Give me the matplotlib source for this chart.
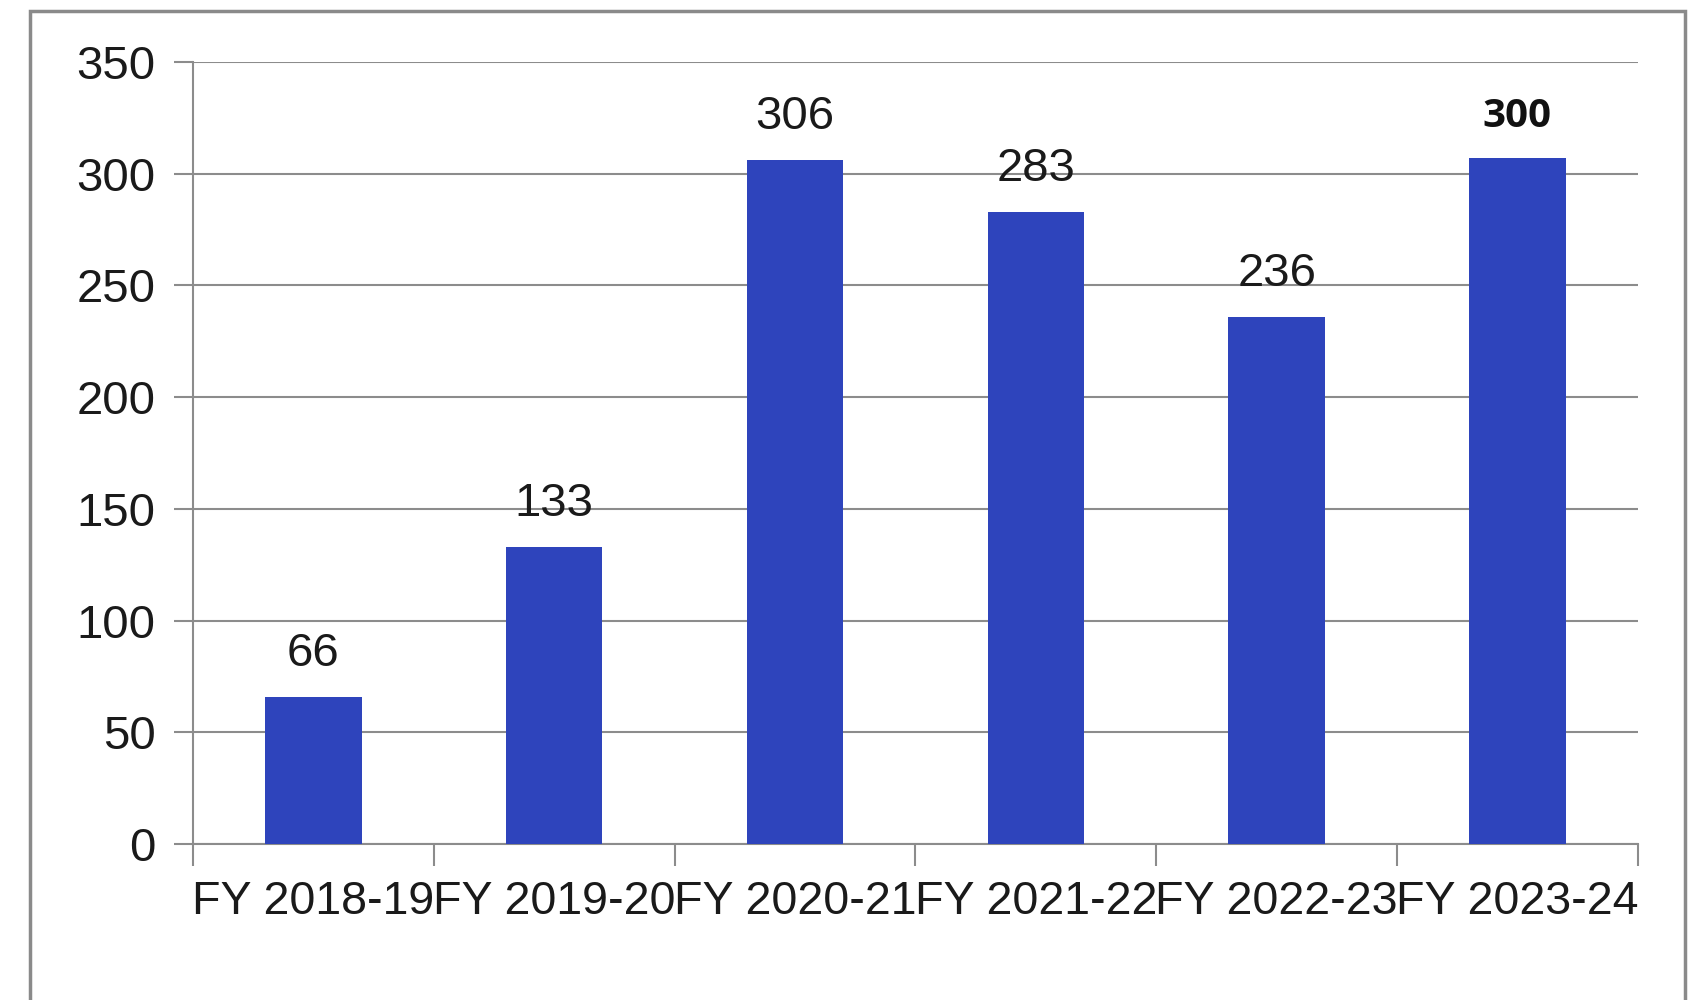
import numpy as np
import matplotlib.pyplot as plt
import matplotlib as mpl
from matplotlib.patches import Rectangle

mpl.rcParams['font.family'] = ['Liberation Sans', 'DejaVu Sans']

# data
years = ['FY 2018-19', 'FY 2019-20', 'FY 2020-21', 'FY 2021-22', 'FY 2022-23', 'FY 2023-24']
counts = [66, 133, 306, 283, 236, 307]
labels = ['66', '133', '306', '283', '236', '300']
y_ticks = [0, 50, 100, 150, 200, 250, 300, 350]

bar_color = '#2E44BC'
grid_color = '#8c8c8c'

fig = plt.figure(figsize=(16.99, 10), dpi=100)
fig.patch.set_facecolor('white')

# grey outer frame (bottom edge runs off the picture)
fig.patches.append(Rectangle((0.0177, -0.05), 0.974, 1.039, transform=fig.transFigure,
                             fill=False, edgecolor='#8a8a8a', linewidth=2.5))

ax = fig.add_axes([0.1136, 0.156, 0.8504, 0.782])
x = np.arange(len(years))
bars = ax.bar(x, counts, width=0.4, color=bar_color, zorder=3)

for i, (b, lab) in enumerate(zip(bars, labels)):
    if i == len(labels) - 1:
        ax.annotate(lab, (b.get_x() + b.get_width() / 2, b.get_height()),
                    xytext=(0, 16), textcoords='offset points', ha='center', va='bottom',
                    fontsize=29, fontweight='bold', family=['Open Sans', 'DejaVu Sans'], color='#111111')
    else:
        ax.annotate(lab, (b.get_x() + b.get_width() / 2, b.get_height()),
                    xytext=(0, 15), textcoords='offset points', ha='center', va='bottom',
                    fontsize=34, color='#1a1a1a')

ax.set_xlim(-0.5, len(years) - 0.5)
ax.set_ylim(0, 350)
ax.set_yticks(y_ticks)
ax.set_yticklabels([str(v) for v in y_ticks], fontsize=34, color='#1a1a1a')
ax.yaxis.grid(True, color=grid_color, linewidth=1.5, zorder=0)

# ticks between categories, labels under the bars
ax.set_xticks(np.arange(-0.5, len(years), 1.0))
ax.set_xticklabels([])
ax.set_xticks(x, minor=True)
ax.set_xticklabels(years, minor=True, fontsize=33.5, color='#1a1a1a')
ax.tick_params(axis='x', which='major', length=16, width=1.5, color=grid_color, direction='out')
ax.tick_params(axis='x', which='minor', length=0, pad=26)
ax.tick_params(axis='y', length=14, width=1.5, color=grid_color, pad=13)

for side in ['top', 'right']:
    ax.spines[side].set_visible(False)
for side in ['left', 'bottom']:
    ax.spines[side].set_color(grid_color)
    ax.spines[side].set_linewidth(1.5)

fig.savefig('out.png', dpi=100)
